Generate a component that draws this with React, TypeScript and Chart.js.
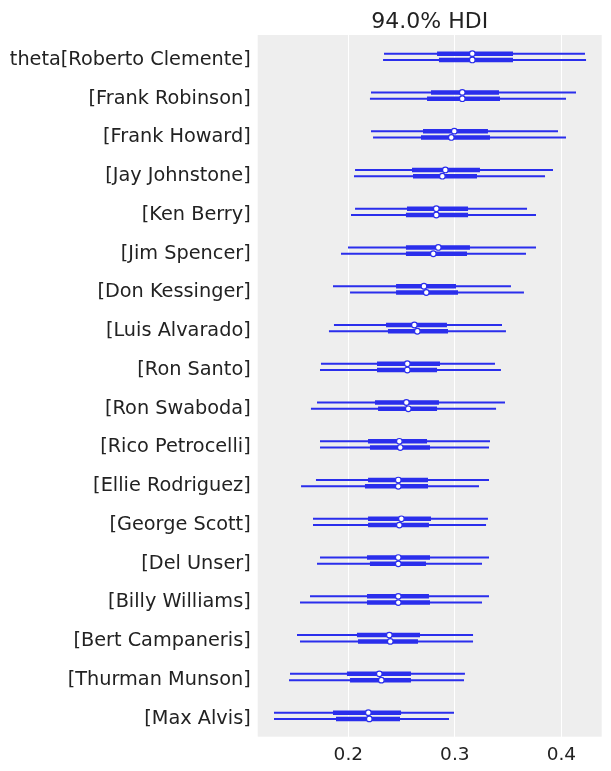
import React, { useEffect, useRef } from "react";
import { Chart, registerables } from "chart.js";

Chart.register(...registerables);

const LABELS = [
  "theta[Roberto Clemente]",
  "[Frank Robinson]",
  "[Frank Howard]",
  "[Jay Johnstone]",
  "[Ken Berry]",
  "[Jim Spencer]",
  "[Don Kessinger]",
  "[Luis Alvarado]",
  "[Ron Santo]",
  "[Ron Swaboda]",
  "[Rico Petrocelli]",
  "[Ellie Rodriguez]",
  "[George Scott]",
  "[Del Unser]",
  "[Billy Williams]",
  "[Bert Campaneris]",
  "[Thurman Munson]",
  "[Max Alvis]",
];

// chain A (upper line of each row)
const A_HDI_LOW = [0.2335, 0.2213, 0.2213, 0.2063, 0.2063, 0.1997, 0.1856, 0.1865, 0.1743, 0.1706, 0.1734, 0.1696, 0.1668, 0.1734, 0.164, 0.1518, 0.1452, 0.1302];
const A_Q25 = [0.2833, 0.2776, 0.2701, 0.2598, 0.2551, 0.2541, 0.2448, 0.2354, 0.2269, 0.225, 0.2185, 0.2185, 0.2185, 0.2175, 0.2175, 0.2081, 0.1987, 0.1856];
const A_MEDIAN = [0.3164, 0.307, 0.2995, 0.2911, 0.2826, 0.2845, 0.271, 0.262, 0.2554, 0.2545, 0.2479, 0.2469, 0.2498, 0.2469, 0.2469, 0.2385, 0.2291, 0.2188];
const A_Q75 = [0.3546, 0.3415, 0.3311, 0.3236, 0.3124, 0.3142, 0.3011, 0.2926, 0.2861, 0.2851, 0.2739, 0.2748, 0.2776, 0.2767, 0.2757, 0.2673, 0.2588, 0.2495];
const A_HDI_HIGH = [0.4222, 0.4138, 0.3969, 0.3922, 0.3678, 0.3762, 0.3527, 0.3443, 0.3377, 0.3471, 0.333, 0.3321, 0.3311, 0.3321, 0.3321, 0.3171, 0.3095, 0.2992];

// chain B (lower line of each row)
const B_HDI_LOW = [0.2326, 0.2203, 0.2232, 0.2053, 0.2025, 0.1931, 0.2016, 0.1818, 0.1734, 0.1649, 0.1734, 0.1556, 0.1668, 0.1706, 0.1546, 0.1546, 0.1443, 0.1302];
const B_Q25 = [0.2851, 0.2739, 0.2682, 0.2607, 0.2541, 0.2541, 0.2448, 0.2372, 0.2269, 0.2279, 0.2203, 0.2156, 0.2185, 0.2203, 0.2175, 0.2091, 0.2016, 0.1884];
const B_MEDIAN = [0.3164, 0.307, 0.2967, 0.2883, 0.2826, 0.2798, 0.2732, 0.2648, 0.2554, 0.2563, 0.2488, 0.2469, 0.2479, 0.2469, 0.2469, 0.2394, 0.231, 0.2197];
const B_Q75 = [0.3546, 0.3424, 0.333, 0.3208, 0.3124, 0.3114, 0.303, 0.2936, 0.2833, 0.2833, 0.2767, 0.2748, 0.2757, 0.2729, 0.2767, 0.2654, 0.2588, 0.2485];
const B_HDI_HIGH = [0.4232, 0.4044, 0.4044, 0.3847, 0.3762, 0.3668, 0.3649, 0.348, 0.3433, 0.3387, 0.3321, 0.3227, 0.3293, 0.3255, 0.3255, 0.3171, 0.3086, 0.2945];

const X_TICKS = [0.2, 0.3, 0.4];
const TITLE = "94.0% HDI";

const BLUE = "#2a2eec";
const TEXT = "#222222";
const OFF = 0.081;

function segments(lo: number[], hi: number[], off: number) {
  const pts: any[] = [];
  lo.forEach((l, i) => {
    pts.push({ x: l, y: i + off }, { x: hi[i], y: i + off }, { x: hi[i], y: null });
  });
  return pts;
}

function medians(m: number[], off: number) {
  return m.map((v, i) => ({ x: v, y: i + off }));
}

const bgPlugin = {
  id: "plotBg",
  beforeDraw(chart: any) {
    const { ctx, chartArea } = chart;
    ctx.save();
    ctx.fillStyle = "#eeeeee";
    ctx.fillRect(chartArea.left, chartArea.top, chartArea.right - chartArea.left, chartArea.bottom - chartArea.top);
    ctx.restore();
  },
};

export default function App() {
  const ref = useRef<HTMLCanvasElement | null>(null);
  useEffect(() => {
    if (!ref.current) return;
    const lineDs = (data: any[], width: number, order: number) => ({
      type: "scatter" as const,
      data,
      showLine: true,
      spanGaps: false,
      borderColor: BLUE,
      borderWidth: width,
      pointRadius: 0,
      pointHoverRadius: 0,
      order,
    });
    const markDs = (data: any[]) => ({
      type: "scatter" as const,
      data,
      showLine: false,
      pointRadius: 2.8,
      pointBorderWidth: 1.2,
      pointBackgroundColor: "#ffffff",
      pointBorderColor: BLUE,
      borderColor: BLUE,
      backgroundColor: "#ffffff",
      order: 0,
    });
    const chart = new Chart(ref.current, {
      type: "scatter",
      data: {
        datasets: [
          markDs(medians(A_MEDIAN, -OFF)),
          markDs(medians(B_MEDIAN, OFF)),
          lineDs(segments(A_Q25, A_Q75, -OFF), 4.5, 1),
          lineDs(segments(B_Q25, B_Q75, OFF), 4.5, 1),
          lineDs(segments(A_HDI_LOW, A_HDI_HIGH, -OFF), 2, 2),
          lineDs(segments(B_HDI_LOW, B_HDI_HIGH, OFF), 2, 2),
        ] as any,
      },
      options: {
        animation: false,
        responsive: false,
        events: [],
        layout: { padding: { left: 0, right: 9.3, top: 0, bottom: 0 } },
        plugins: {
          legend: { display: false },
          tooltip: { enabled: false },
          title: {
            display: true,
            text: TITLE,
            fullSize: false,
            color: TEXT,
            font: { family: "'DejaVu Sans'", size: 22, weight: "normal" },
            padding: { top: 8.6, bottom: 0 },
          },
        },
        scales: {
          x: {
            type: "linear",
            min: 0.1149,
            max: 0.4379,
            afterBuildTicks: (scale: any) => {
              scale.ticks = X_TICKS.map((v) => ({ value: v }));
            },
            afterFit: (scale: any) => {
              scale.height = 34.3;
            },
            grid: { color: "#ffffff", lineWidth: 1, drawTicks: false },
            border: { display: false },
            ticks: {
              color: TEXT,
              font: { family: "'DejaVu Sans'", size: 18.5 },
              padding: 7,
              callback: (v: any) => Number(v).toFixed(1),
            },
          },
          y: {
            type: "linear",
            reverse: true,
            min: -0.562,
            max: 17.54,
            afterBuildTicks: (scale: any) => {
              scale.ticks = LABELS.map((_, i) => ({ value: i }));
            },
            afterFit: (scale: any) => {
              scale.width = 257.7;
            },
            grid: { display: false, drawTicks: false },
            border: { display: false },
            ticks: {
              color: TEXT,
              font: { family: "'DejaVu Sans'", size: 19.3 },
              padding: 7,
              labelOffset: 3,
              autoSkip: false,
              callback: (v: any) => LABELS[Math.round(Number(v))] ?? "",
            },
          },
        },
      },
      plugins: [bgPlugin],
    });
    return () => chart.destroy();
  }, []);
  return (
    <div style={{ position: "fixed", left: 0, top: 0, width: 611, height: 771, background: "#ffffff" }}>
      <canvas ref={ref} width={611} height={771} style={{ display: "block", width: 611, height: 771 }} />
    </div>
  );
}
